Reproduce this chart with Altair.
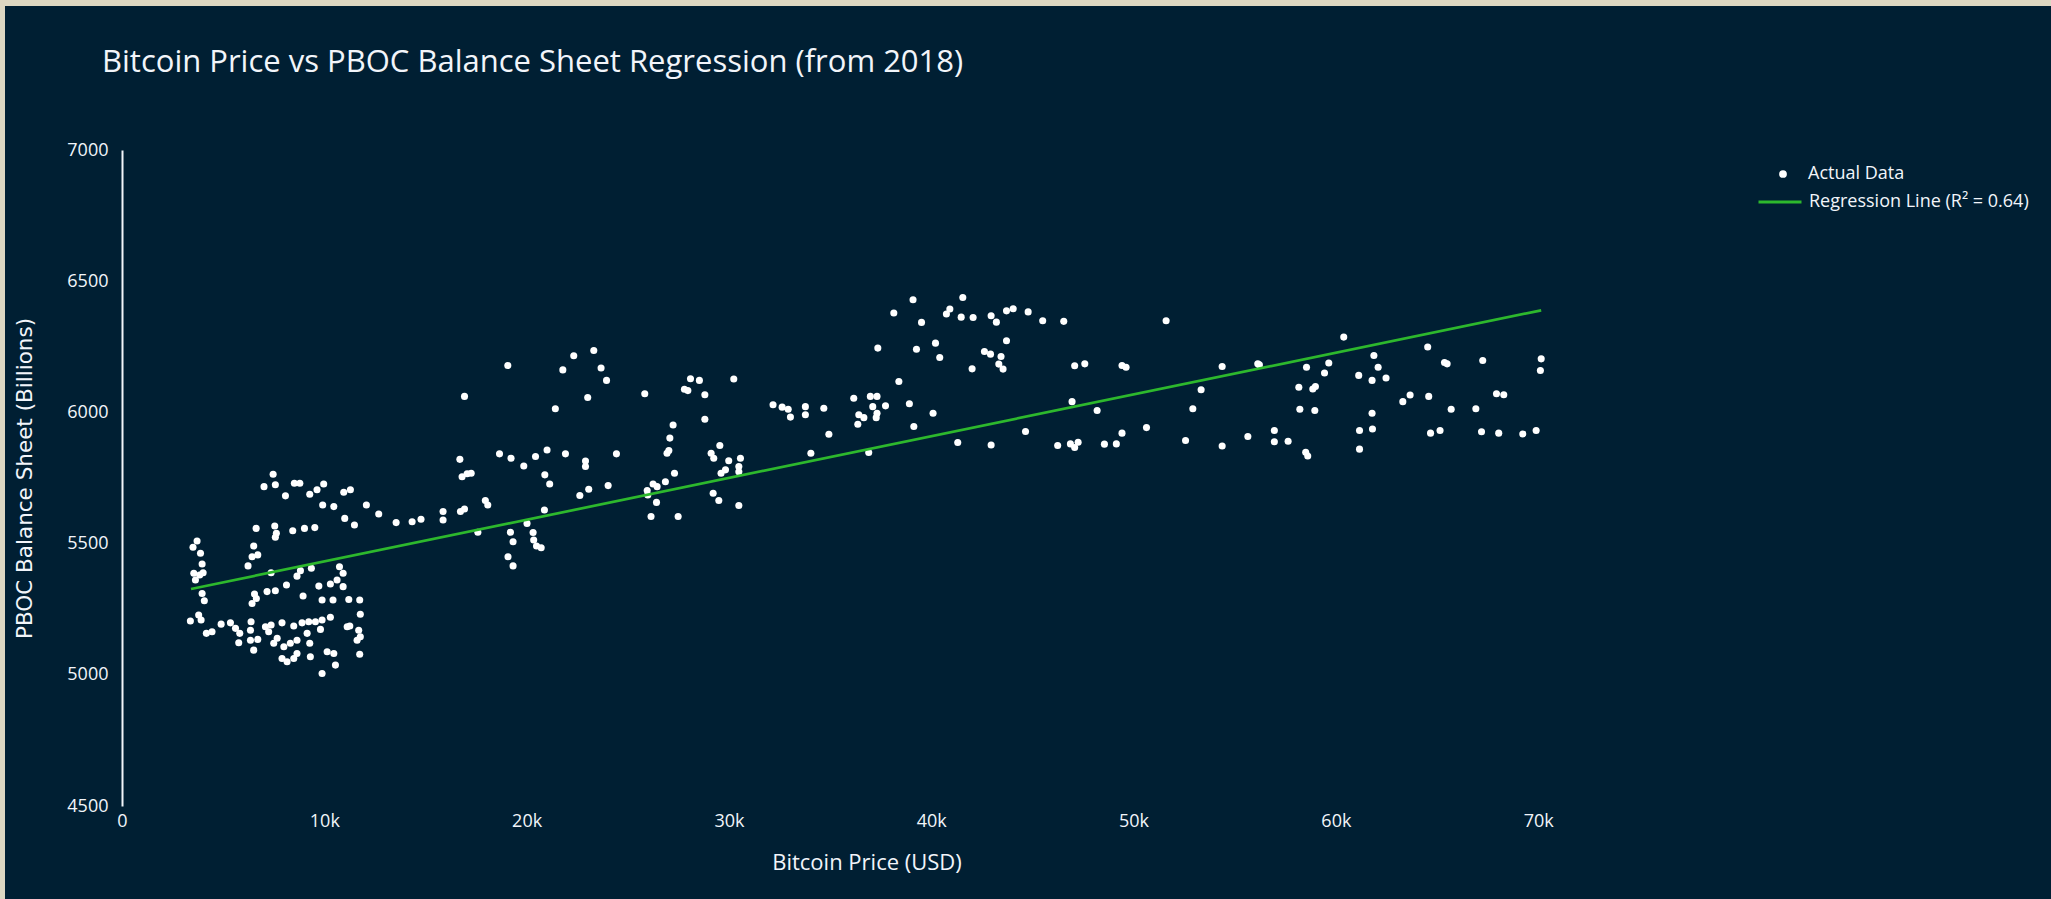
import altair as alt
import pandas as pd

# ---------------- data ----------------
# 2018-2020 cluster (3k - 16k USD)
PRICE_A = [7470, 7020, 7580, 8080, 8520, 8790, 9280, 9640, 9970, 10960, 11290, 9920, 10470, 12080, 12690,
           11010, 11490, 13550, 14340, 14780, 15870, 15870,
           6630, 7550, 7630, 7580, 8440, 9020, 9530,
           3710, 3510, 3880, 3960, 3550, 3840, 4010, 3630, 3960, 4070, 3380, 3790, 3910, 4170, 4450]
BAL_A = [5764, 5717, 5724, 5682, 5730, 5730, 5688, 5705, 5727, 5696, 5705, 5647, 5641, 5647, 5613,
         5596, 5571, 5580, 5583, 5593, 5622, 5590,
         5558, 5567, 5539, 5524, 5549, 5558, 5561,
         5510, 5486, 5463, 5422, 5387, 5380, 5389, 5361, 5310, 5282, 5205, 5228, 5209, 5158, 5164]

PRICE_B = [6510, 6430, 6710, 6230, 7370, 8650, 8820, 9360, 10750, 10930, 8130, 9730, 10300, 10630, 10930,
           8950, 6550, 6640, 6430, 7170, 7580, 9890, 10430, 11210, 11750, 11780, 10300]
BAL_B = [5491, 5450, 5457, 5415, 5389, 5376, 5397, 5406, 5412, 5387, 5342, 5338, 5346, 5361, 5336,
         5300, 5308, 5291, 5272, 5317, 5320, 5285, 5285, 5287, 5285, 5231, 5219]

PRICE_C = [4900, 5360, 5610, 5820, 5770, 6380, 6350, 6350, 6710, 6510, 7090, 7370, 7250, 7910, 8490,
           8900, 9230, 9560, 9890, 9810, 7670, 7500, 8000, 8320, 8650, 9150, 9280, 7910, 8160, 8490,
           8650, 9310, 10140, 10470, 10550, 9890, 11260, 11700, 11780, 11620, 11750, 11130]
BAL_C = [5193, 5198, 5177, 5158, 5122, 5202, 5170, 5132, 5135, 5094, 5183, 5190, 5164, 5198, 5186,
         5198, 5202, 5202, 5209, 5173, 5139, 5120, 5107, 5120, 5132, 5158, 5120, 5062, 5050, 5062,
         5081, 5069, 5088, 5081, 5037, 5005, 5186, 5170, 5145, 5132, 5078, 5183]

# 16k - 22k cluster
PRICE_D = [16700, 16810, 17060, 17260, 16730, 16930, 17590, 17960, 18080, 16930, 19070, 18660, 19230, 19860,
           20440, 21010, 21920, 20900, 21140, 20880, 20020, 19200, 19330, 19080, 19330, 20320, 20350, 20490, 20720]
BAL_D = [5821, 5755, 5766, 5768, 5622, 5632, 5543, 5664, 5647, 6061, 6179, 5842, 5825, 5796,
         5832, 5857, 5842, 5762, 5727, 5628, 5577, 5543, 5507, 5450, 5415, 5542, 5514, 5491, 5484]

# 21k - 33k cluster
PRICE_E = [21420, 21790, 22330, 23320, 23680, 23950, 23020, 22910, 22910, 24440, 22630, 23070, 24030, 25840,
           27240, 27080, 27030, 26940, 27310, 25960, 25990, 26250, 26450, 26860, 26420, 26150, 27490, 28100,
           28540, 27800, 27970, 28810, 28810, 30240, 29550, 29120, 29250, 29990, 30570, 29610, 29830, 30490,
           30490, 29220, 29500, 30490, 32180, 32630, 32930, 33040]
BAL_E = [6014, 6162, 6216, 6236, 6169, 6122, 6057, 5815, 5794, 5842, 5683, 5707, 5721, 6071,
         5952, 5902, 5855, 5844, 5768, 5702, 5685, 5727, 5717, 5736, 5657, 5603, 5603, 6128,
         6122, 6088, 6083, 6067, 5974, 6127, 5874, 5844, 5825, 5816, 5825, 5768, 5781, 5794,
         5774, 5692, 5664, 5645, 6029, 6020, 6012, 5982]

# 34k - 51k cluster
PRICE_F = [34050, 34940, 34690, 33780, 33780, 36170, 36370, 36420, 36670, 36990, 37320, 37110, 37320, 37280,
           37740, 36910, 37360, 38400, 38920, 39140, 40090, 38150, 39100, 39520, 39270, 40210, 40420, 40750,
           40920, 41560, 41480, 42070, 42020, 42960, 43220, 43720, 44050, 43720, 42630, 42930, 43450, 43340,
           43550, 44790, 45510, 46550, 47090, 47590, 49430, 49630, 46960, 48200, 44660, 41310, 42960, 46250,
           46880, 47090, 47260, 48560, 49150, 49430, 50640]
BAL_F = [5844, 5917, 6016, 6022, 5991, 6054, 5955, 5991, 5980, 6061, 6061, 6022, 5997, 5980,
         6025, 5847, 6245, 6118, 6033, 5946, 5997, 6379, 6429, 6343, 6241, 6264, 6209, 6375,
         6394, 6438, 6363, 6362, 6166, 6368, 6344, 6387, 6395, 6273, 6232, 6222, 6213, 6184,
         6165, 6383, 6349, 6347, 6178, 6185, 6179, 6172, 6041, 6007, 5927, 5885, 5876, 5874,
         5880, 5866, 5886, 5879, 5880, 5921, 5942]

# 51k - 70k cluster
PRICE_G = [51610, 52570, 52930, 53340, 54380, 54380, 55650, 56140, 56220, 56960, 56960, 57640, 58170, 58220,
           58550, 58860, 58990, 58960, 58510, 58610, 59440, 59650, 60390, 61130, 61170, 61170, 61790, 61880,
           62090, 62480, 61790, 61810, 63310, 63670, 64540, 64590, 64680, 65150, 65370, 65500, 65700, 66920,
           67200, 67260, 67940, 68300, 68050, 69240, 69900, 70150, 70110]
BAL_G = [6349, 5893, 6014, 6086, 6175, 5872, 5908, 6185, 6181, 5931, 5888, 5890, 6096, 6012,
         6172, 6089, 6099, 6007, 5848, 5834, 6150, 6188, 6287, 6141, 5931, 5860, 6122, 6217,
         6172, 6131, 5997, 5937, 6041, 6066, 6249, 6061, 5921, 5931, 6190, 6185, 6012, 6014,
         5926, 6198, 6071, 6067, 5921, 5918, 5931, 6204, 6160]

# regression line end points
REG_PRICE = [3410, 70150]
REG_BALANCE = [5327, 6389]

X_TICKS = [0, 10000, 20000, 30000, 40000, 50000, 60000, 70000]
Y_TICKS = [4500, 5000, 5500, 6000, 6500, 7000]
SERIES_POINTS = "Actual Data"
SERIES_LINE = "Regression Line (R² = 0.64)"
TITLE = "Bitcoin Price vs PBOC Balance Sheet Regression (from 2018)"

price = PRICE_A + PRICE_B + PRICE_C + PRICE_D + PRICE_E + PRICE_F + PRICE_G
balance = BAL_A + BAL_B + BAL_C + BAL_D + BAL_E + BAL_F + BAL_G
df = pd.DataFrame({"price": price, "balance": balance})
df["series"] = SERIES_POINTS
reg = pd.DataFrame({"price": REG_PRICE, "balance": REG_BALANCE})
reg["fit"] = SERIES_LINE

# ---------------- style ----------------
BG = "#001F33"
FRAME = "#DDD7C2"
TEXT = "#F2F5FA"
GREEN = "#2DB82D"
FONT = "Open Sans"
FONT_Y = "DejaVu Sans"

W, H = 1489, 656
PAD_L, PAD_T = 122, 150
PAD_R = 2051 - PAD_L - W
PAD_B = 899 - PAD_T - H

x_enc = alt.X(
    "price:Q",
    scale=alt.Scale(domain=[0, 73600], nice=False, zero=False),
    axis=alt.Axis(values=X_TICKS, labelExpr="datum.value === 0 ? '0' : (datum.value / 1000) + 'k'",
                  title="Bitcoin Price (USD)", grid=False, labelFlush=False,
                  domain=False, ticks=False, labelPadding=6, titlePadding=22,
                  labelFont=FONT, labelFontSize=18, labelColor=TEXT,
                  titleFont=FONT, titleFontSize=22, titleColor=TEXT, titleFontWeight="normal"),
)
y_enc = alt.Y(
    "balance:Q",
    scale=alt.Scale(domain=[4500, 7000], nice=False, zero=False),
    axis=alt.Axis(values=Y_TICKS, format="d", title="PBOC Balance Sheet (Billions)", grid=False,
                  labelFlush=False,
                  domain=True, domainColor=TEXT, domainWidth=2, ticks=False, labelPadding=14,
                  titlePadding=30,
                  labelFont=FONT, labelFontSize=18, labelColor=TEXT,
                  titleFont=FONT_Y, titleFontSize=21.5, titleColor=TEXT, titleFontWeight="normal"),
)

one = pd.DataFrame({"k": [0]})
frame_top = alt.Chart(one).mark_rect(color=FRAME).encode(
    x=alt.value(-PAD_L), x2=alt.value(W + PAD_R), y=alt.value(-PAD_T), y2=alt.value(-PAD_T + 6))
frame_left = alt.Chart(one).mark_rect(color=FRAME).encode(
    x=alt.value(-PAD_L), x2=alt.value(-PAD_L + 5), y=alt.value(-PAD_T), y2=alt.value(H + PAD_B))

points = alt.Chart(df).mark_circle(size=50, opacity=1).encode(
    x=x_enc,
    y=y_enc,
    fill=alt.Fill("series:N", scale=alt.Scale(domain=[SERIES_POINTS], range=["white"]),
                  legend=alt.Legend(title=None, orient="none", legendX=1652, legendY=15,
                                    symbolType="circle", symbolSize=60, symbolStrokeWidth=0,
                                    labelOffset=16, padding=0, labelLimit=500,
                                    labelFont=FONT, labelFontSize=18, labelColor=TEXT)),
)

line = alt.Chart(reg).mark_line(strokeWidth=2.7).encode(
    x="price:Q",
    y="balance:Q",
    stroke=alt.Stroke("fit:N", scale=alt.Scale(domain=[SERIES_LINE], range=[GREEN]),
                      legend=alt.Legend(title=None, orient="none", legendX=1635, legendY=29,
                                        symbolType="stroke", symbolSize=1849, symbolStrokeWidth=3,
                                        labelOffset=6, padding=0, labelLimit=500,
                                        labelFont=FONT, labelFontSize=18, labelColor=TEXT)),
)

chart = alt.layer(frame_top, frame_left, points, line).properties(
    width=W,
    height=H,
    title=alt.TitleParams(TITLE, anchor="start", frame="group", font=FONT, fontSize=31,
                          fontWeight="normal", color=TEXT, dx=-20, offset=-103,
                          baseline="alphabetic"),
    autosize=alt.AutoSizeParams(type="none"),
    padding={"left": PAD_L, "top": PAD_T, "right": PAD_R, "bottom": PAD_B},
    background=BG,
).configure_view(strokeWidth=0)

chart.save("out.html", embed_options={"renderer": "svg", "actions": False})
